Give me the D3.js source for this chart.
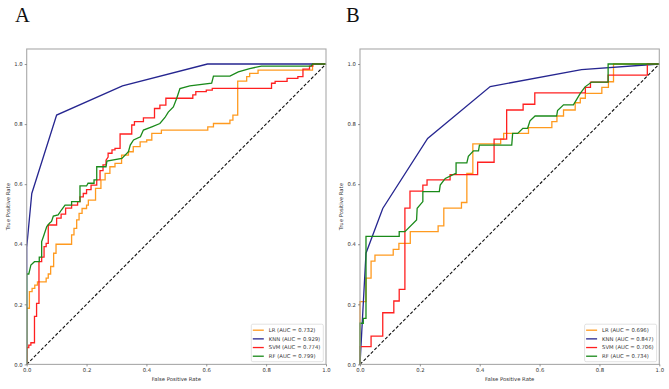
<!DOCTYPE html>
<html><head><meta charset="utf-8">
<script src="https://cdn.jsdelivr.net/npm/d3@7"></script>
<style>body{margin:0;background:#fff}svg{display:block}</style>
</head><body>
<script>
// ---- data (fpr, tpr corner points) ----
const models = ["LR", "KNN", "SVM", "RF"];
const colors = ["#ff9a1f", "#262690", "#ff2020", "#1a8a1a"];
const aucA = ["0.732", "0.929", "0.774", "0.799"];
const aucB = ["0.696", "0.847", "0.706", "0.734"];
const ticks = [0.0, 0.2, 0.4, 0.6, 0.8, 1.0];
const tickLabels = ["0.0", "0.2", "0.4", "0.6", "0.8", "1.0"];

const lrA = [[0,0],[0,0.187],[0.009,0.187],[0.009,0.242],[0.018,0.242],[0.018,0.253],[0.027,0.253],[0.027,0.264],[0.036,0.264],[0.036,0.275],[0.065,0.275],[0.065,0.287],[0.072,0.287],[0.072,0.301],[0.08,0.301],[0.08,0.326],[0.09,0.326],[0.09,0.37],[0.098,0.37],[0.098,0.4],[0.15,0.4],[0.15,0.431],[0.158,0.431],[0.158,0.453],[0.167,0.453],[0.167,0.481],[0.175,0.481],[0.175,0.503],[0.185,0.503],[0.185,0.519],[0.2,0.519],[0.2,0.53],[0.206,0.53],[0.206,0.547],[0.23,0.547],[0.23,0.586],[0.248,0.586],[0.248,0.614],[0.262,0.614],[0.262,0.636],[0.278,0.636],[0.278,0.658],[0.295,0.658],[0.295,0.669],[0.317,0.669],[0.317,0.697],[0.34,0.697],[0.34,0.708],[0.356,0.708],[0.356,0.725],[0.379,0.725],[0.379,0.741],[0.401,0.741],[0.401,0.747],[0.418,0.747],[0.418,0.769],[0.45,0.769],[0.45,0.78],[0.605,0.78],[0.605,0.791],[0.624,0.791],[0.624,0.802],[0.679,0.802],[0.679,0.813],[0.689,0.813],[0.689,0.83],[0.705,0.83],[0.705,0.943],[0.735,0.943],[0.735,0.958],[0.745,0.958],[0.745,0.969],[0.773,0.969],[0.773,0.98],[0.955,0.98],[0.955,1.0],[1,1]];
const knnA = [[0,0],[0,0.39],[0.017,0.569],[0.1,0.83],[0.32,0.927],[0.604,1.0],[1,1]];
const svmA = [[0,0],[0,0.056],[0.007,0.056],[0.007,0.064],[0.014,0.064],[0.014,0.072],[0.026,0.072],[0.026,0.16],[0.033,0.16],[0.033,0.203],[0.041,0.203],[0.041,0.342],[0.05,0.342],[0.05,0.357],[0.058,0.357],[0.058,0.392],[0.065,0.392],[0.065,0.403],[0.072,0.403],[0.072,0.464],[0.1,0.464],[0.1,0.487],[0.115,0.487],[0.115,0.5],[0.13,0.5],[0.13,0.52],[0.15,0.52],[0.15,0.53],[0.17,0.53],[0.17,0.542],[0.178,0.542],[0.178,0.558],[0.189,0.558],[0.189,0.569],[0.2,0.569],[0.2,0.582],[0.215,0.582],[0.215,0.597],[0.234,0.597],[0.234,0.614],[0.245,0.614],[0.245,0.645],[0.255,0.645],[0.255,0.664],[0.265,0.664],[0.265,0.68],[0.272,0.69],[0.272,0.703],[0.285,0.703],[0.285,0.714],[0.295,0.714],[0.295,0.719],[0.312,0.719],[0.312,0.767],[0.351,0.767],[0.351,0.797],[0.36,0.797],[0.36,0.808],[0.39,0.808],[0.39,0.821],[0.427,0.821],[0.427,0.852],[0.445,0.852],[0.445,0.863],[0.465,0.863],[0.465,0.886],[0.555,0.886],[0.555,0.897],[0.565,0.897],[0.565,0.908],[0.6,0.908],[0.6,0.913],[0.62,0.913],[0.62,0.919],[0.818,0.919],[0.818,0.936],[0.83,0.936],[0.83,0.942],[0.87,0.942],[0.87,0.952],[0.906,0.952],[0.906,0.958],[0.923,0.958],[0.923,0.983],[0.945,0.983],[0.945,0.993],[0.956,0.993],[0.956,1.0],[1,1]];
const rfA = [[0,0],[0,0.301],[0.007,0.301],[0.014,0.331],[0.026,0.342],[0.042,0.342],[0.042,0.357],[0.05,0.357],[0.05,0.409],[0.056,0.426],[0.067,0.459],[0.076,0.47],[0.083,0.476],[0.089,0.494],[0.105,0.498],[0.116,0.514],[0.128,0.53],[0.15,0.53],[0.15,0.542],[0.178,0.542],[0.178,0.594],[0.2,0.594],[0.205,0.603],[0.225,0.603],[0.225,0.614],[0.234,0.614],[0.234,0.658],[0.265,0.658],[0.268,0.677],[0.318,0.686],[0.34,0.708],[0.346,0.73],[0.357,0.747],[0.38,0.758],[0.39,0.78],[0.418,0.791],[0.445,0.802],[0.462,0.822],[0.473,0.84],[0.49,0.857],[0.501,0.885],[0.512,0.918],[0.545,0.927],[0.618,0.936],[0.624,0.96],[0.679,0.96],[0.707,0.974],[0.745,0.985],[0.784,0.993],[0.95,0.993],[0.955,1.0],[1,1]];

const lrB = [[0,0],[0,0.209],[0.02,0.209],[0.02,0.287],[0.037,0.287],[0.037,0.344],[0.05,0.344],[0.05,0.364],[0.111,0.364],[0.111,0.383],[0.13,0.383],[0.13,0.403],[0.168,0.403],[0.168,0.442],[0.261,0.442],[0.261,0.461],[0.28,0.461],[0.28,0.52],[0.339,0.52],[0.339,0.539],[0.357,0.539],[0.357,0.636],[0.377,0.636],[0.377,0.734],[0.47,0.734],[0.47,0.75],[0.48,0.75],[0.48,0.769],[0.563,0.769],[0.563,0.788],[0.641,0.788],[0.641,0.808],[0.658,0.808],[0.658,0.827],[0.68,0.827],[0.68,0.847],[0.719,0.847],[0.719,0.871],[0.736,0.871],[0.736,0.886],[0.753,0.886],[0.753,0.902],[0.808,0.902],[0.808,0.922],[0.83,0.922],[0.83,0.941],[0.847,0.941],[0.847,1.0],[1,1]];
const knnB = [[0,0],[0.02,0.37],[0.076,0.519],[0.226,0.752],[0.435,0.925],[0.74,0.981],[1,1]];
const svmB = [[0,0],[0,0.059],[0.037,0.059],[0.037,0.094],[0.076,0.094],[0.076,0.172],[0.113,0.172],[0.113,0.211],[0.131,0.211],[0.131,0.25],[0.15,0.25],[0.15,0.52],[0.167,0.52],[0.167,0.577],[0.21,0.577],[0.21,0.597],[0.224,0.597],[0.224,0.614],[0.301,0.614],[0.301,0.632],[0.393,0.632],[0.393,0.673],[0.448,0.673],[0.448,0.75],[0.49,0.75],[0.49,0.847],[0.545,0.847],[0.545,0.866],[0.584,0.866],[0.584,0.904],[0.753,0.904],[0.753,0.922],[0.77,0.922],[0.77,0.94],[0.829,0.94],[0.829,0.963],[0.96,0.963],[0.96,1.0],[1,1]];
const rfB = [[0,0],[0,0.137],[0.011,0.137],[0.011,0.153],[0.02,0.153],[0.02,0.426],[0.131,0.426],[0.131,0.442],[0.15,0.442],[0.189,0.481],[0.191,0.52],[0.21,0.542],[0.21,0.575],[0.265,0.575],[0.268,0.597],[0.285,0.619],[0.318,0.635],[0.321,0.635],[0.321,0.671],[0.357,0.671],[0.362,0.693],[0.379,0.711],[0.396,0.711],[0.399,0.73],[0.507,0.73],[0.51,0.769],[0.527,0.769],[0.544,0.786],[0.56,0.786],[0.568,0.811],[0.585,0.827],[0.657,0.827],[0.66,0.845],[0.68,0.864],[0.713,0.864],[0.736,0.902],[0.752,0.924],[0.774,0.94],[0.829,0.94],[0.829,1.0],[1,1]];

const panels = [
  {title: "A", curves: [lrA, knnA, svmA, rfA], auc: aucA, left: 26.7, right: 326, titleX: 15},
  {title: "B", curves: [lrB, knnB, svmB, rfB], auc: aucB, left: 360, right: 659.3, titleX: 346}
];

const W = 669, H = 389;
const svg = d3.select("body").append("svg").attr("width", W).attr("height", H);
const FONT = "DejaVu Sans, sans-serif";
const fs = 5.3;

panels.forEach(p => {
  const x = d3.scaleLinear().domain([0, 1]).range([p.left, p.right]);
  const y = d3.scaleLinear().domain([0, 1.05]).range([364.4, 49]);
  const g = svg.append("g");

  // title
  g.append("text").attr("x", p.titleX).attr("y", 22)
    .attr("font-family", "Liberation Serif, Times New Roman, serif")
    .attr("font-size", 20.5).attr("fill", "#111").text(p.title);

  // diagonal
  g.append("line").attr("x1", x(0)).attr("y1", y(0)).attr("x2", x(1)).attr("y2", y(1))
    .attr("stroke", "#111").attr("stroke-width", 1.1).attr("stroke-dasharray", "3.2,1.9");

  const line = d3.line().x(d => x(d[0])).y(d => y(d[1]));
  p.curves.forEach((c, i) => {
    g.append("path").attr("d", line(c)).attr("fill", "none")
      .attr("stroke", colors[i]).attr("stroke-width", 1.3).attr("stroke-linejoin", "miter");
  });

  // frame
  g.append("rect").attr("x", x(0)).attr("y", y(1.05)).attr("width", x(1) - x(0)).attr("height", y(0) - y(1.05))
    .attr("fill", "none").attr("stroke", "#a9a9a9").attr("stroke-width", 1.1);

  // axes
  const xa = d3.axisBottom(x).tickValues(ticks).tickFormat((d, i) => tickLabels[i]).tickSize(2).tickPadding(2.3);
  const ya = d3.axisLeft(y).tickValues(ticks).tickFormat((d, i) => tickLabels[i]).tickSize(2).tickPadding(2);
  const gx = g.append("g").attr("transform", `translate(0,${y(0)})`).call(xa);
  const gy = g.append("g").attr("transform", `translate(${x(0)},0)`).call(ya);
  [gx, gy].forEach(a => {
    a.select(".domain").remove();
    a.selectAll("line").attr("stroke", "#666").attr("stroke-width", 0.7);
    a.selectAll("text").attr("font-family", FONT).attr("font-size", fs).attr("fill", "#333");
  });

  g.append("text").attr("x", (x(0) + x(1)) / 2).attr("y", 381).attr("text-anchor", "middle")
    .attr("font-family", FONT).attr("font-size", fs).attr("fill", "#333").text("False Positive Rate");
  g.append("text").attr("transform", `translate(${x(0) - 17},${(y(0) + y(1.05)) / 2}) rotate(-90)`)
    .attr("text-anchor", "middle").attr("font-family", FONT).attr("font-size", fs).attr("fill", "#333")
    .text("True Positive Rate");

  // legend
  const lw = 72, lh = 37.5;
  const lx = x(1) - 2.7 - lw, ly = y(0) - 2.7 - lh;
  const lg = g.append("g").attr("transform", `translate(${lx},${ly})`);
  lg.append("rect").attr("width", lw).attr("height", lh).attr("rx", 1.5)
    .attr("fill", "#fff").attr("fill-opacity", 0.85).attr("stroke", "#d5d5d5").attr("stroke-width", 0.7);
  models.forEach((m, i) => {
    const yy = 6 + i * 8.67;
    lg.append("line").attr("x1", 1.5).attr("x2", 12.5).attr("y1", yy).attr("y2", yy)
      .attr("stroke", colors[i]).attr("stroke-width", 1.3);
    lg.append("text").attr("x", 17.5).attr("y", yy).attr("dy", "0.35em")
      .attr("font-family", FONT).attr("font-size", fs).attr("fill", "#333")
      .text(`${m} (AUC = ${p.auc[i]})`);
  });
});
</script>
</body></html>
